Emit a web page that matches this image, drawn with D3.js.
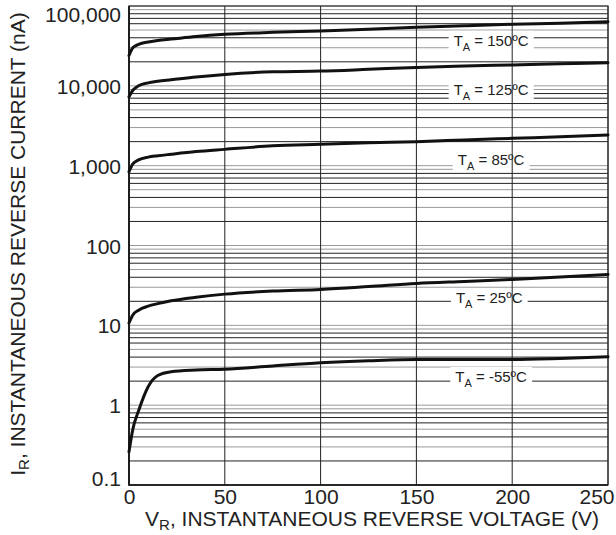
<!DOCTYPE html>
<html>
<head>
<meta charset="utf-8">
<script src="https://cdn.jsdelivr.net/npm/d3@7"></script>
<style>
  body { margin: 0; background: #fff; }
  svg { display: block; font-family: "Liberation Sans", Arial, sans-serif; }
</style>
</head>
<body>
<svg id="chart" width="616" height="535"></svg>
<script>
// courbes IR = f(VR) pour chaque température
var vr = [0, 2, 5, 10, 15, 22, 35, 50, 75, 100, 125, 150, 175, 200, 225, 250];

var temps = ["150ºC", "125ºC", "85ºC", "25ºC", "-55ºC"];

var i150 = [24000, 30000, 33000, 35500, 37000, 38500, 41500, 44200, 46800, 48700, 51000, 54000, 56500, 59000, 61000, 63500];
var i125 = [7300, 8800, 10000, 10900, 11400, 11900, 12900, 13900, 15000, 15300, 16100, 17000, 17700, 18300, 18900, 19500];
var i85 = [840, 1050, 1180, 1280, 1330, 1390, 1500, 1600, 1770, 1850, 1930, 2000, 2100, 2200, 2300, 2420];
var i25 = [10.7, 13.5, 15.5, 17.4, 18.7, 20.3, 22.5, 24.6, 26.9, 28.2, 30.6, 33.5, 35.5, 37.6, 40.3, 43.4];
var im55 = [0.26, 0.5, 0.85, 1.7, 2.35, 2.62, 2.75, 2.82, 3.1, 3.39, 3.6, 3.74, 3.74, 3.74, 3.85, 4.03];

// position des étiquettes (VR, IR)
var labelV = [189, 189, 189, 188, 189];
var labelI = [36700, 8850, 1175, 21.9, 2.26];

var xTicks = [0, 50, 100, 150, 200, 250];
var yTicks = [0.1, 1, 10, 100, 1000, 10000, 100000];

var series = [i150, i125, i85, i25, im55];

var svg = d3.select("#chart");

var x = d3.scaleLinear().domain([0, 250]).range([129, 608]);
var y = d3.scaleLog().domain([0.1, 100000]).range([485, 6]);

//lignes horizontales, 1..9 par décade
var minor = [];
yTicks.slice(0, -1).forEach(d => {
  for (var k = 1; k <= 9; k++) minor.push({ v: d * k, k: k });
});
minor.push({ v: 100000, k: 1 });
var greyK = { 1: true, 3: true, 5: true, 9: true };

svg.append("g")
  .selectAll("line")
  .data(minor)
  .join("line")
  .attr("x1", x(0)).attr("x2", x(250))
  .attr("y1", d => y(d.v)).attr("y2", d => y(d.v))
  .attr("stroke", d => greyK[d.k] ? "#9a9a9a" : "#222")
  .attr("stroke-width", 1);

// fonds blancs des étiquettes
var labels = svg.append("g");
var boxes = labels.selectAll("rect")
  .data(temps)
  .join("rect")
  .attr("fill", "#fff");

//lignes verticales
svg.append("g")
  .selectAll("line")
  .data(xTicks)
  .join("line")
  .attr("x1", d => x(d)).attr("x2", d => x(d))
  .attr("y1", y(0.1)).attr("y2", y(100000))
  .attr("stroke", "#222")
  .attr("stroke-width", 1);

// cadre
svg.append("rect")
  .attr("x", x(0)).attr("y", y(100000))
  .attr("width", x(250) - x(0)).attr("height", y(0.1) - y(100000))
  .attr("fill", "none").attr("stroke", "#333").attr("stroke-width", 1.2);
svg.append("path")
  .attr("d", `M${x(0)},${y(100000)}V${y(0.1)}H${x(250)}`)
  .attr("fill", "none").attr("stroke", "#111").attr("stroke-width", 1.6);

// courbes
var line = d3.line()
  .x((d, i) => x(vr[i]))
  .y(d => y(d))
  .curve(d3.curveMonotoneX);

svg.append("g")
  .selectAll("path")
  .data(series)
  .join("path")
  .attr("d", line)
  .attr("fill", "none")
  .attr("stroke", "#111")
  .attr("stroke-width", 3)
  .attr("stroke-linecap", "round");

// textes des étiquettes
var txt = labels.selectAll("text")
  .data(temps)
  .join("text")
  .attr("x", (d, i) => x(labelV[i]))
  .attr("y", (d, i) => y(labelI[i]) + 5)
  .attr("text-anchor", "middle")
  .attr("font-size", 15)
  .attr("fill", "#222");
txt.append("tspan").text("T");
txt.append("tspan").attr("font-size", 11).attr("dy", 5).text("A");
txt.append("tspan").attr("dy", -5).text(d => " = " + d);

txt.each(function (d, i) {
  var b = this.getBBox();
  d3.select(boxes.nodes()[i])
    .attr("x", b.x - 5).attr("width", b.width + 10)
    .attr("y", y(labelI[i]) - 10).attr("height", 20);
});

// axes
var fs = 21;
var xAxis = svg.append("g")
  .attr("transform", `translate(0,${y(0.1)})`)
  .call(d3.axisBottom(x).tickValues(xTicks).tickSize(0).tickPadding(4));
xAxis.select(".domain").remove();
xAxis.selectAll("text")
  .attr("font-size", fs).attr("font-family", "Liberation Sans, Arial, sans-serif").attr("fill", "#222")
  .attr("text-anchor", d => d === 250 ? "end" : "middle")
  .attr("dx", d => d === 250 ? 6 : 0);

var yAxis = svg.append("g")
  .attr("transform", `translate(${x(0)},0)`)
  .call(d3.axisLeft(y).tickValues(yTicks).tickFormat(d3.format(",")).tickSize(0).tickPadding(8));
yAxis.select(".domain").remove();
yAxis.selectAll("text")
  .attr("font-size", fs).attr("font-family", "Liberation Sans, Arial, sans-serif").attr("fill", "#222")
  .attr("dy", d => d === 100000 ? "0.72em" : d === 0.1 ? "0" : "0.36em");

// titres
var xt = svg.append("text")
  .attr("x", 372).attr("y", 526)
  .attr("text-anchor", "middle")
  .attr("font-size", fs).attr("fill", "#222");
xt.append("tspan").text("V");
xt.append("tspan").attr("font-size", 15).attr("dy", 4).text("R");
xt.append("tspan").attr("dy", -4).text(", INSTANTANEOUS REVERSE VOLTAGE (V)");

var yt = svg.append("text")
  .attr("transform", "translate(25,244) rotate(-90)")
  .attr("text-anchor", "middle")
  .attr("font-size", fs).attr("fill", "#222");
yt.append("tspan").text("I");
yt.append("tspan").attr("font-size", 15).attr("dy", 4).text("R");
yt.append("tspan").attr("dy", -4).text(", INSTANTANEOUS REVERSE CURRENT (nA)");
</script>
</body>
</html>
